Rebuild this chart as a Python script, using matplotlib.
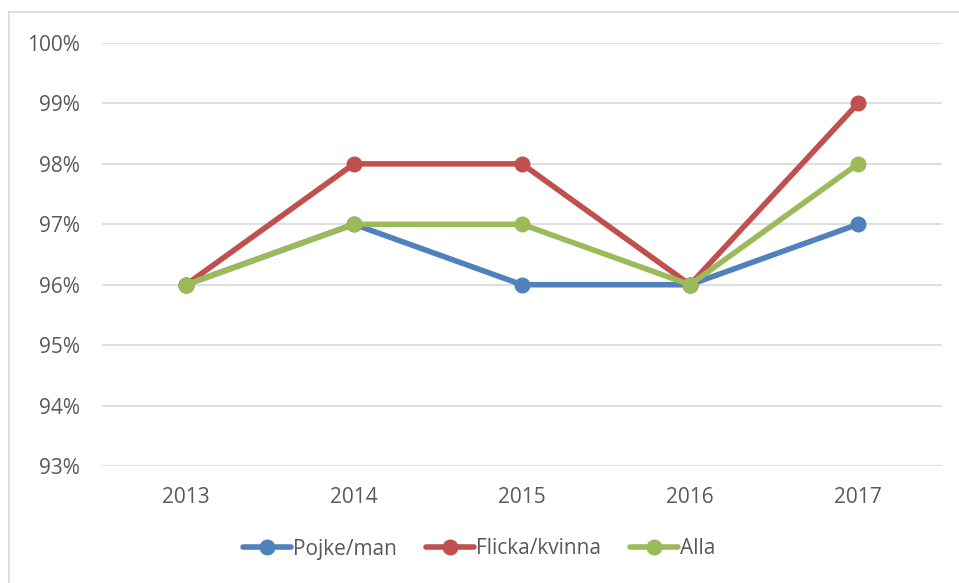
import numpy as np
import matplotlib.pyplot as plt
from matplotlib.lines import Line2D

years = ["2013", "2014", "2015", "2016", "2017"]
pojke = [96, 97, 96, 96, 97]
flicka = [96, 98, 98, 96, 99]
alla = [96, 97, 97, 96, 98]

series = [("Pojke/man", pojke, "#4F81BD"),
          ("Flicka/kvinna", flicka, "#C0504D"),
          ("Alla", alla, "#9BBB59")]

plt.rcParams['font.family'] = ['Open Sans', 'DejaVu Sans']

fig = plt.figure(figsize=(9.59, 5.83), dpi=100)
ax = fig.add_axes([102 / 959, 1 - 466 / 583, 840 / 959, 423 / 583])

x = np.arange(len(years))
for name, vals, col in series:
    ax.plot(x, vals, color=col, lw=4, marker="o", ms=10.5, label=name,
            solid_capstyle="round", zorder=3)

ax.set_xlim(-0.5, len(years) - 0.5)
ax.set_ylim(93, 100)
ax.set_yticks(np.arange(93, 101))
ax.set_yticklabels([f"{v}%" for v in range(93, 101)])
ax.set_xticks(x)
ax.set_xticklabels(years)
ax.grid(axis="y", color="#D9D9D9", lw=1.2)
ax.set_axisbelow(True)
for s in ax.spines.values():
    s.set_visible(False)
ax.tick_params(length=0, labelsize=15, colors="#595959")
ax.tick_params(axis="y", pad=16)
ax.tick_params(axis="x", pad=15)

handles = [Line2D([], [], color=c, lw=4, marker="o", ms=10.5, solid_capstyle="round")
           for _, _, c in series]
fig.legend(handles, [s[0] for s in series], loc="center", bbox_to_anchor=(0.5, 1 - 549 / 583),
           ncol=3, frameon=False, fontsize=15, handlelength=2.3, handletextpad=0.1,
           columnspacing=1.4, labelcolor="#595959")

# light chart-area border (left and top edges visible)
fig.add_artist(Line2D([9 / 959, 9 / 959], [0, 1 - 12 / 583], transform=fig.transFigure,
                      color="#D9D9D9", lw=1.2))
fig.add_artist(Line2D([9 / 959, 1], [1 - 12 / 583, 1 - 12 / 583], transform=fig.transFigure,
                      color="#D9D9D9", lw=1.2))

fig.savefig("out.png", dpi=100)
